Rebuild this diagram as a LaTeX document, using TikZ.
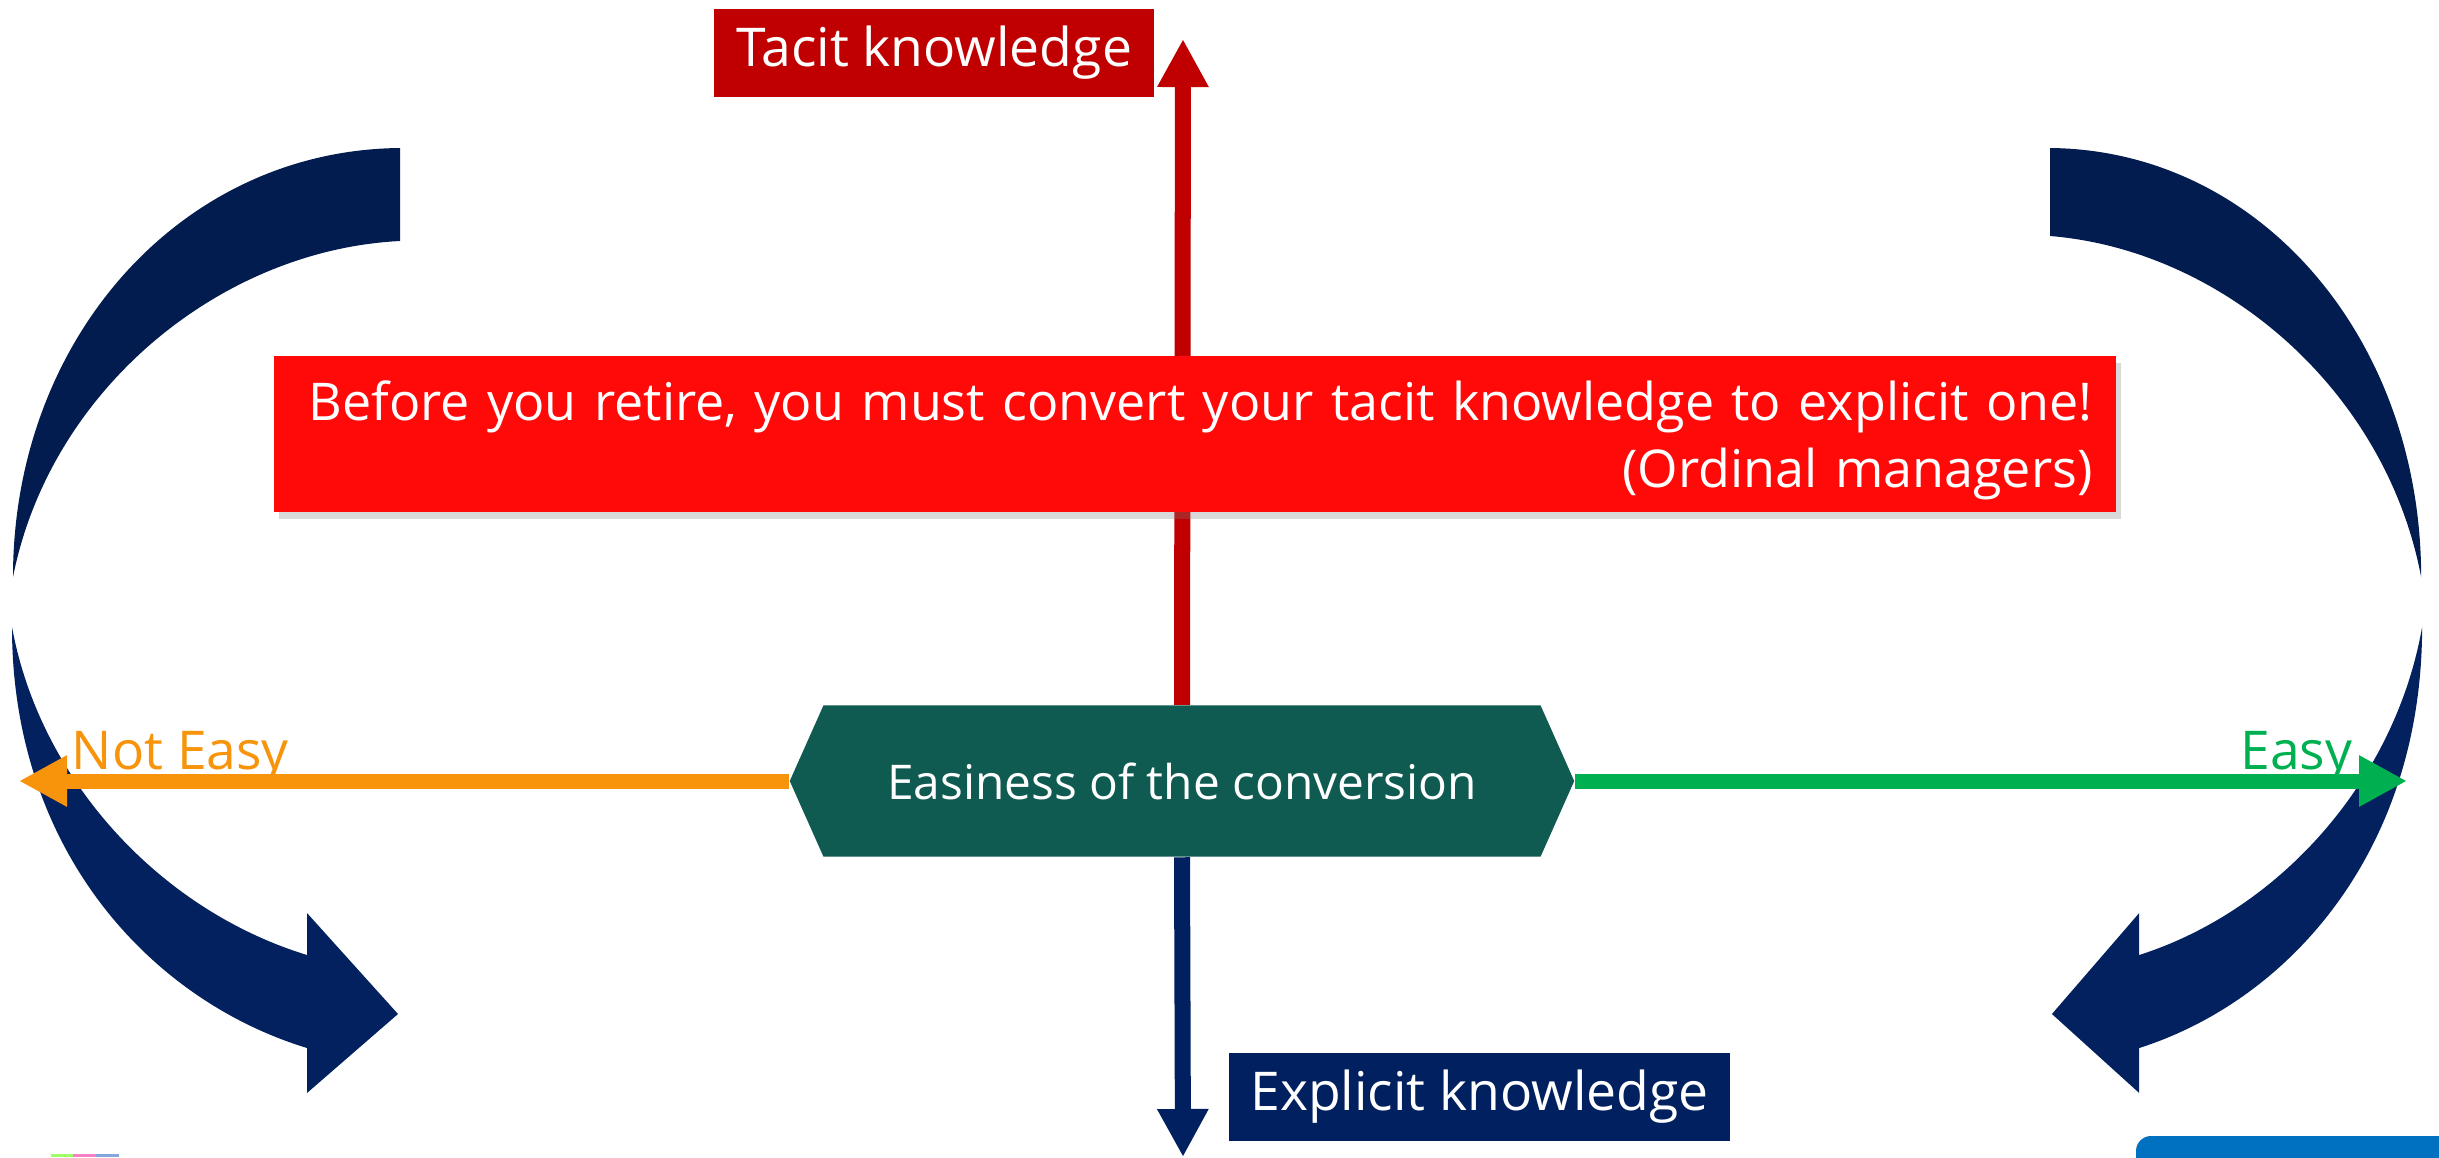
\documentclass[tikz,border=0pt]{standalone}
\usepackage{fontspec}
\setmainfont{Open Sans}
\usetikzlibrary{arrows.meta,shapes.symbols,shadows}

\definecolor{TacitRed}{HTML}{C00000}
\definecolor{BoxRed}{HTML}{FF0909}
\definecolor{ExplicitNavy}{HTML}{002060}
\definecolor{ArcTop}{HTML}{021C4F}
\definecolor{ArcLow}{HTML}{03215F}
\definecolor{HexTeal}{HTML}{0F5B51}
\definecolor{NotEasyOrange}{HTML}{F7940C}
\definecolor{EasyGreen}{HTML}{00B050}
\definecolor{CornerBlue}{HTML}{0070C0}

\tikzset{
  slidefont/.style={font=\fontsize{15.2}{21}\selectfont},
  axisbox/.style={slidefont, text=white, inner sep=0pt, minimum height=0.88cm},
  axisarrow/.style={line width=0.16cm, -{Triangle[length=0.48cm, width=0.48cm]}},
  sidearrow/.style={line width=0.15cm, -{Triangle[length=0.48cm, width=0.48cm]}},
}

\begin{document}
\begin{tikzpicture}[x=0.01cm, y=-0.01cm]
 \useasboundingbox (0,0) rectangle (2439,1157);
 \clip (0,0) rectangle (2439,1157);

 %%%%%%%%%% Points pour travailler %%%%%%%%%%
 \coordinate (tacittip) at (1183,39);
 \coordinate (explicittip) at (1183,1157);
 \coordinate (noteasytip) at (19,781);
 \coordinate (easytip) at (2407,781);

 % Curved arrows, left side
 \fill[ArcTop] (400,148) .. controls (180,150) and (13,340) .. (13,577)
   .. controls (50,390) and (220,250) .. (400,241) -- cycle;
 \fill[ArcLow] (12,627) .. controls (12,850) and (150,1000) .. (307,1048)
   -- (307,1093) -- (398,1014) -- (307,913) -- (307,955)
   .. controls (160,910) and (40,780) .. (12,627) -- cycle;

 % Curved arrows, right side (mirrored)
 \begin{scope}[shift={(2433.6,0)}, xscale=-0.959]
  \fill[ArcTop] (400,148) .. controls (180,150) and (13,340) .. (13,577)
    .. controls (50,390) and (220,250) .. (400,236) -- cycle;
  \fill[ArcLow] (12,627) .. controls (12,850) and (150,1000) .. (307,1048)
    -- (307,1093) -- (398,1014) -- (307,913) -- (307,955)
    .. controls (160,910) and (40,780) .. (12,627) -- cycle;
 \end{scope}

 % Centre
 \node[signal, signal to=west and east, signal pointer angle=132, fill=HexTeal,
   minimum width=7.84cm, minimum height=1.51cm, inner sep=0pt,
   font=\fontsize{13.6}{18}\selectfont, text=white] (hex) at (1182,781) {Easiness of the conversion};

 % Axes
 \draw[axisarrow, TacitRed] (hex.north) -- (tacittip);
 \draw[axisarrow, ExplicitNavy] (hex.south) -- (explicittip);
 \draw[sidearrow, NotEasyOrange] (hex.west) -- (noteasytip);
 \draw[sidearrow, EasyGreen] (hex.east) -- (easytip);

 \node[slidefont, text=NotEasyOrange, anchor=base west, inner sep=0pt] (noteasy) at (71,769) {Not Easy};
 \node[slidefont, text=EasyGreen, anchor=base east, inner sep=0pt] (easy) at (2353,769) {Easy};

 % Labels of the vertical axis
 \node[axisbox, fill=TacitRed, minimum width=4.4cm] (tacit) at (934,53) {Tacit knowledge};
 \node[axisbox, fill=ExplicitNavy, minimum width=5.01cm] (explicit) at (1479.5,1097) {Explicit knowledge};

 % Message
 \node[font=\fontsize{14.8}{19}\selectfont, text=white, fill=BoxRed, minimum width=18.4cm, minimum height=1.56cm,
   inner xsep=0.23cm, inner ysep=0pt, text width=17.94cm, align=right,
   drop shadow={opacity=0.3, shadow xshift=0.05cm, shadow yshift=-0.07cm}] (message) at (1195,434)
   {\rule{0pt}{0.52cm}Before you retire, you must convert your tacit knowledge to explicit one!\\(Ordinal managers)};

 % Cut off pieces at the bottom
 \fill[CornerBlue, rounded corners=0.15cm] (2136,1136) rectangle (2480,1220);
 \fill[green!50!lime!60!white] (51,1154) rectangle (73,1157);
 \fill[magenta!50!white] (73,1154) rectangle (96,1157);
 \fill[cyan!50!blue!50!white] (96,1154) rectangle (119,1157);

\end{tikzpicture}
\end{document}
